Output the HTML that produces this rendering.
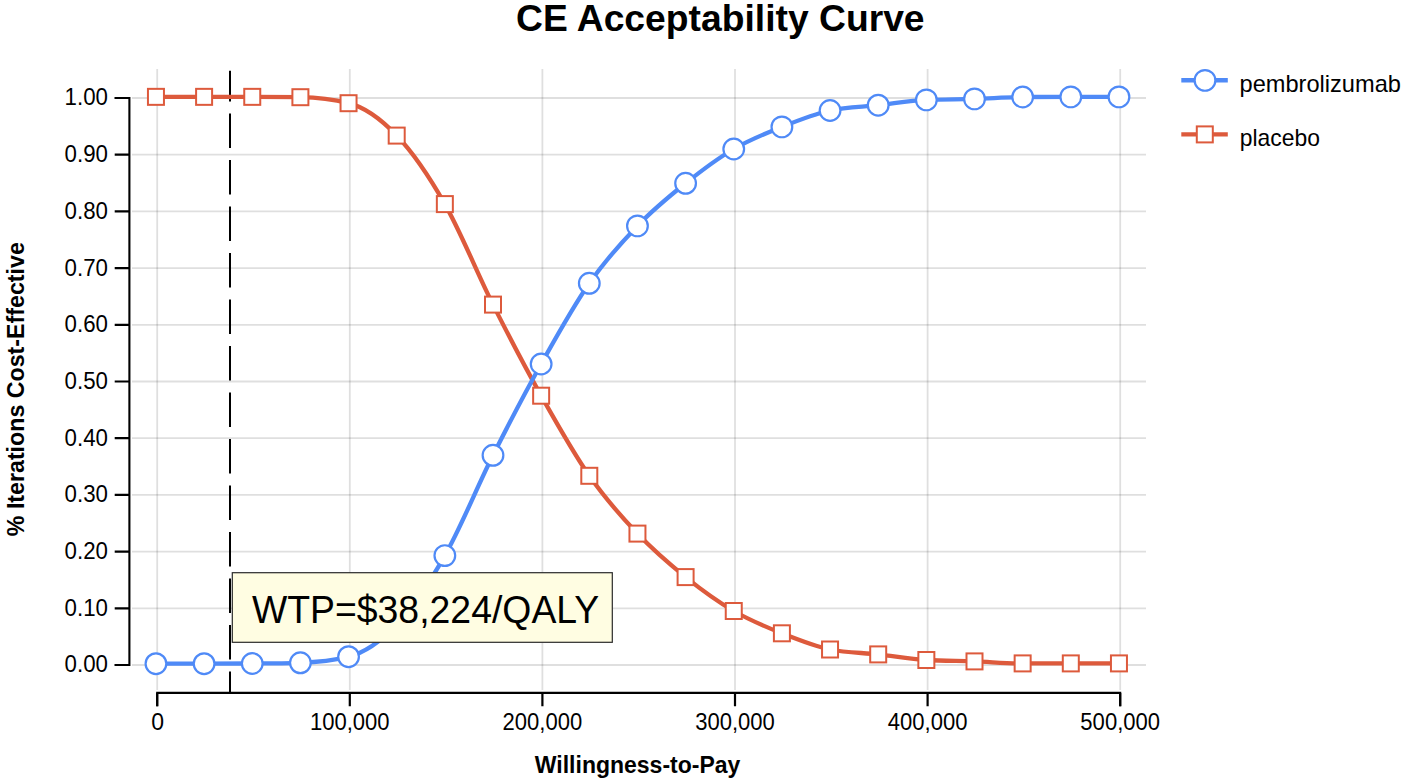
<!DOCTYPE html>
<html><head><meta charset="utf-8"><title>CE Acceptability Curve</title>
<style>
html,body{margin:0;padding:0;background:#fff;overflow:hidden;}
svg{display:block;}
text{font-family:"Liberation Sans",sans-serif;fill:#000;}
.tk{font-size:23px;}
.lg{font-size:23.4px;}
.title{font-size:37px;font-weight:bold;}
.axt{font-size:23px;font-weight:bold;}
.wtp{font-size:38px;}
</style></head><body>
<svg width="1403" height="784" viewBox="0 0 1403 784">
<rect x="0" y="0" width="1403" height="784" fill="#fff"/>
<path d="M157.20,69V690" stroke="#000" stroke-opacity="0.125" stroke-width="1.8" fill="none"/>
<path d="M349.80,69V690" stroke="#000" stroke-opacity="0.125" stroke-width="1.8" fill="none"/>
<path d="M542.40,69V690" stroke="#000" stroke-opacity="0.125" stroke-width="1.8" fill="none"/>
<path d="M735.00,69V690" stroke="#000" stroke-opacity="0.125" stroke-width="1.8" fill="none"/>
<path d="M927.60,69V690" stroke="#000" stroke-opacity="0.125" stroke-width="1.8" fill="none"/>
<path d="M1120.20,69V690" stroke="#000" stroke-opacity="0.125" stroke-width="1.8" fill="none"/>
<path d="M132,98.00H1146" stroke="#000" stroke-opacity="0.125" stroke-width="1.8" fill="none"/>
<path d="M132,154.70H1146" stroke="#000" stroke-opacity="0.125" stroke-width="1.8" fill="none"/>
<path d="M132,211.40H1146" stroke="#000" stroke-opacity="0.125" stroke-width="1.8" fill="none"/>
<path d="M132,268.10H1146" stroke="#000" stroke-opacity="0.125" stroke-width="1.8" fill="none"/>
<path d="M132,324.80H1146" stroke="#000" stroke-opacity="0.125" stroke-width="1.8" fill="none"/>
<path d="M132,381.50H1146" stroke="#000" stroke-opacity="0.125" stroke-width="1.8" fill="none"/>
<path d="M132,438.20H1146" stroke="#000" stroke-opacity="0.125" stroke-width="1.8" fill="none"/>
<path d="M132,494.90H1146" stroke="#000" stroke-opacity="0.125" stroke-width="1.8" fill="none"/>
<path d="M132,551.60H1146" stroke="#000" stroke-opacity="0.125" stroke-width="1.8" fill="none"/>
<path d="M132,608.30H1146" stroke="#000" stroke-opacity="0.125" stroke-width="1.8" fill="none"/>
<path d="M132,665.00H1146" stroke="#000" stroke-opacity="0.125" stroke-width="1.8" fill="none"/>
<path d="M114.7,98.00H129.4V665.00H114.7" stroke="#000" stroke-width="2.1" fill="none"/>
<path d="M114.7,98.00H129.4M114.7,154.70H129.4M114.7,211.40H129.4M114.7,268.10H129.4M114.7,324.80H129.4M114.7,381.50H129.4M114.7,438.20H129.4M114.7,494.90H129.4M114.7,551.60H129.4M114.7,608.30H129.4M114.7,665.00H129.4" stroke="#000" stroke-width="2.2" fill="none"/>
<path d="M157.20,706.3V692.9H1120.20V706.3" stroke="#000" stroke-width="2.1" fill="none"/>
<path d="M157.20,692.9V706.3M349.80,692.9V706.3M542.40,692.9V706.3M735.00,692.9V706.3M927.60,692.9V706.3M1120.20,692.9V706.3" stroke="#000" stroke-width="2.2" fill="none"/>
<text x="107.9" y="105.40" text-anchor="end" class="tk" textLength="43.32" lengthAdjust="spacingAndGlyphs">1.00</text>
<text x="107.9" y="162.10" text-anchor="end" class="tk" textLength="43.32" lengthAdjust="spacingAndGlyphs">0.90</text>
<text x="107.9" y="218.80" text-anchor="end" class="tk" textLength="43.32" lengthAdjust="spacingAndGlyphs">0.80</text>
<text x="107.9" y="275.50" text-anchor="end" class="tk" textLength="43.32" lengthAdjust="spacingAndGlyphs">0.70</text>
<text x="107.9" y="332.20" text-anchor="end" class="tk" textLength="43.32" lengthAdjust="spacingAndGlyphs">0.60</text>
<text x="107.9" y="388.90" text-anchor="end" class="tk" textLength="43.32" lengthAdjust="spacingAndGlyphs">0.50</text>
<text x="107.9" y="445.60" text-anchor="end" class="tk" textLength="43.32" lengthAdjust="spacingAndGlyphs">0.40</text>
<text x="107.9" y="502.30" text-anchor="end" class="tk" textLength="43.32" lengthAdjust="spacingAndGlyphs">0.30</text>
<text x="107.9" y="559.00" text-anchor="end" class="tk" textLength="43.32" lengthAdjust="spacingAndGlyphs">0.20</text>
<text x="107.9" y="615.70" text-anchor="end" class="tk" textLength="43.32" lengthAdjust="spacingAndGlyphs">0.10</text>
<text x="107.9" y="672.40" text-anchor="end" class="tk" textLength="43.32" lengthAdjust="spacingAndGlyphs">0.00</text>
<text x="157.60" y="729.5" text-anchor="middle" class="tk">0</text>
<text x="349.80" y="729.5" text-anchor="middle" class="tk" textLength="79.68" lengthAdjust="spacingAndGlyphs">100,000</text>
<text x="542.40" y="729.5" text-anchor="middle" class="tk" textLength="79.68" lengthAdjust="spacingAndGlyphs">200,000</text>
<text x="735.00" y="729.5" text-anchor="middle" class="tk" textLength="79.68" lengthAdjust="spacingAndGlyphs">300,000</text>
<text x="927.60" y="729.5" text-anchor="middle" class="tk" textLength="79.68" lengthAdjust="spacingAndGlyphs">400,000</text>
<text x="1120.20" y="729.5" text-anchor="middle" class="tk" textLength="79.68" lengthAdjust="spacingAndGlyphs">500,000</text>
<text x="720.3" y="30.8" text-anchor="middle" class="title" textLength="408.6" lengthAdjust="spacingAndGlyphs">CE Acceptability Curve</text>
<text x="637.6" y="772.8" text-anchor="middle" class="axt">Willingness-to-Pay</text>
<text transform="translate(24.2,389.2) rotate(-90)" text-anchor="middle" class="axt" textLength="294" lengthAdjust="spacingAndGlyphs">% Iterations Cost-Effective</text>
<line x1="230" y1="70.7" x2="230" y2="692" stroke="#000" stroke-width="2" stroke-dasharray="34.4 12.1" stroke-dashoffset="3.6"/>
<path d="M155.95,96.85C172.00,96.85,188.05,96.85,204.10,96.85C220.15,96.85,236.20,96.85,252.25,96.85C268.30,96.85,284.35,96.97,300.40,97.20C316.45,97.43,332.50,99.20,348.55,103.20C364.60,107.20,380.65,118.78,396.70,135.60C412.75,152.42,428.80,175.93,444.85,204.10C460.90,232.27,476.95,272.67,493.00,304.60C509.05,336.53,525.10,367.17,541.15,395.70C557.20,424.23,573.25,452.82,589.30,475.80C605.35,498.78,621.40,516.72,637.45,533.60C653.50,550.48,669.55,564.20,685.60,577.10C701.65,590.00,717.70,601.63,733.75,611.00C749.80,620.37,765.85,626.88,781.90,633.30C797.95,639.72,814.00,646.23,830.05,649.50C846.10,652.77,862.15,652.65,878.20,654.40C894.25,656.15,910.30,659.07,926.35,660.00C942.40,660.93,958.45,660.83,974.50,661.40C990.55,661.97,1006.60,663.40,1022.65,663.40C1038.70,663.40,1054.75,663.40,1070.80,663.40C1086.85,663.40,1102.90,663.40,1118.95,663.40" stroke="#dd5a3c" stroke-width="4.3" fill="none"/>
<path d="M155.95,663.70C172.00,663.70,188.05,663.70,204.10,663.70C220.15,663.70,236.20,663.63,252.25,663.50C268.30,663.37,284.35,663.27,300.40,662.80C316.45,662.33,332.50,660.77,348.55,656.70C364.60,652.63,380.65,641.55,396.70,624.70C412.75,607.85,428.80,583.83,444.85,555.60C460.90,527.37,476.95,487.23,493.00,455.30C509.05,423.37,525.10,392.67,541.15,364.00C557.20,335.33,573.25,306.32,589.30,283.30C605.35,260.28,621.40,242.57,637.45,225.90C653.50,209.23,669.55,196.12,685.60,183.30C701.65,170.48,717.70,158.40,733.75,149.00C749.80,139.60,765.85,133.32,781.90,126.90C797.95,120.48,814.00,114.03,830.05,110.50C846.10,106.97,862.15,106.97,878.20,105.20C894.25,103.43,910.30,100.57,926.35,99.90C942.40,99.23,958.45,99.38,974.50,98.90C990.55,98.42,1006.60,97.07,1022.65,97.00C1038.70,96.93,1054.75,96.90,1070.80,96.90C1086.85,96.90,1102.90,96.90,1118.95,96.90" stroke="#4f8af7" stroke-width="4.3" fill="none"/>
<rect x="147.95" y="88.85" width="16" height="16" fill="#fff" stroke="#dd5a3c" stroke-width="2"/>
<rect x="196.10" y="88.85" width="16" height="16" fill="#fff" stroke="#dd5a3c" stroke-width="2"/>
<rect x="244.25" y="88.85" width="16" height="16" fill="#fff" stroke="#dd5a3c" stroke-width="2"/>
<rect x="292.40" y="89.20" width="16" height="16" fill="#fff" stroke="#dd5a3c" stroke-width="2"/>
<rect x="340.55" y="95.20" width="16" height="16" fill="#fff" stroke="#dd5a3c" stroke-width="2"/>
<rect x="388.70" y="127.60" width="16" height="16" fill="#fff" stroke="#dd5a3c" stroke-width="2"/>
<rect x="436.85" y="196.10" width="16" height="16" fill="#fff" stroke="#dd5a3c" stroke-width="2"/>
<rect x="485.00" y="296.60" width="16" height="16" fill="#fff" stroke="#dd5a3c" stroke-width="2"/>
<rect x="533.15" y="387.70" width="16" height="16" fill="#fff" stroke="#dd5a3c" stroke-width="2"/>
<rect x="581.30" y="467.80" width="16" height="16" fill="#fff" stroke="#dd5a3c" stroke-width="2"/>
<rect x="629.45" y="525.60" width="16" height="16" fill="#fff" stroke="#dd5a3c" stroke-width="2"/>
<rect x="677.60" y="569.10" width="16" height="16" fill="#fff" stroke="#dd5a3c" stroke-width="2"/>
<rect x="725.75" y="603.00" width="16" height="16" fill="#fff" stroke="#dd5a3c" stroke-width="2"/>
<rect x="773.90" y="625.30" width="16" height="16" fill="#fff" stroke="#dd5a3c" stroke-width="2"/>
<rect x="822.05" y="641.50" width="16" height="16" fill="#fff" stroke="#dd5a3c" stroke-width="2"/>
<rect x="870.20" y="646.40" width="16" height="16" fill="#fff" stroke="#dd5a3c" stroke-width="2"/>
<rect x="918.35" y="652.00" width="16" height="16" fill="#fff" stroke="#dd5a3c" stroke-width="2"/>
<rect x="966.50" y="653.40" width="16" height="16" fill="#fff" stroke="#dd5a3c" stroke-width="2"/>
<rect x="1014.65" y="655.40" width="16" height="16" fill="#fff" stroke="#dd5a3c" stroke-width="2"/>
<rect x="1062.80" y="655.40" width="16" height="16" fill="#fff" stroke="#dd5a3c" stroke-width="2"/>
<rect x="1110.95" y="655.40" width="16" height="16" fill="#fff" stroke="#dd5a3c" stroke-width="2"/>
<circle cx="155.95" cy="663.70" r="10.35" fill="#fff" stroke="#4f8af7" stroke-width="2.2"/>
<circle cx="204.10" cy="663.70" r="10.35" fill="#fff" stroke="#4f8af7" stroke-width="2.2"/>
<circle cx="252.25" cy="663.50" r="10.35" fill="#fff" stroke="#4f8af7" stroke-width="2.2"/>
<circle cx="300.40" cy="662.80" r="10.35" fill="#fff" stroke="#4f8af7" stroke-width="2.2"/>
<circle cx="348.55" cy="656.70" r="10.35" fill="#fff" stroke="#4f8af7" stroke-width="2.2"/>
<circle cx="396.70" cy="624.70" r="10.35" fill="#fff" stroke="#4f8af7" stroke-width="2.2"/>
<circle cx="444.85" cy="555.60" r="10.35" fill="#fff" stroke="#4f8af7" stroke-width="2.2"/>
<circle cx="493.00" cy="455.30" r="10.35" fill="#fff" stroke="#4f8af7" stroke-width="2.2"/>
<circle cx="541.15" cy="364.00" r="10.35" fill="#fff" stroke="#4f8af7" stroke-width="2.2"/>
<circle cx="589.30" cy="283.30" r="10.35" fill="#fff" stroke="#4f8af7" stroke-width="2.2"/>
<circle cx="637.45" cy="225.90" r="10.35" fill="#fff" stroke="#4f8af7" stroke-width="2.2"/>
<circle cx="685.60" cy="183.30" r="10.35" fill="#fff" stroke="#4f8af7" stroke-width="2.2"/>
<circle cx="733.75" cy="149.00" r="10.35" fill="#fff" stroke="#4f8af7" stroke-width="2.2"/>
<circle cx="781.90" cy="126.90" r="10.35" fill="#fff" stroke="#4f8af7" stroke-width="2.2"/>
<circle cx="830.05" cy="110.50" r="10.35" fill="#fff" stroke="#4f8af7" stroke-width="2.2"/>
<circle cx="878.20" cy="105.20" r="10.35" fill="#fff" stroke="#4f8af7" stroke-width="2.2"/>
<circle cx="926.35" cy="99.90" r="10.35" fill="#fff" stroke="#4f8af7" stroke-width="2.2"/>
<circle cx="974.50" cy="98.90" r="10.35" fill="#fff" stroke="#4f8af7" stroke-width="2.2"/>
<circle cx="1022.65" cy="97.00" r="10.35" fill="#fff" stroke="#4f8af7" stroke-width="2.2"/>
<circle cx="1070.80" cy="96.90" r="10.35" fill="#fff" stroke="#4f8af7" stroke-width="2.2"/>
<circle cx="1118.95" cy="96.90" r="10.35" fill="#fff" stroke="#4f8af7" stroke-width="2.2"/>
<rect x="232.3" y="572.7" width="380" height="69.6" fill="#fffde2" stroke="#2a2a2a" stroke-width="1.2"/>
<text x="251.9" y="623" class="wtp" textLength="347.4" lengthAdjust="spacingAndGlyphs">WTP=$38,224/QALY</text>
<path d="M1181.3,80.25H1227.8" stroke="#4f8af7" stroke-width="4.3"/>
<circle cx="1205" cy="80.4" r="10.35" fill="#fff" stroke="#4f8af7" stroke-width="2.2"/>
<text x="1239.5" y="91.8" class="lg" textLength="161.4" lengthAdjust="spacingAndGlyphs">pembrolizumab</text>
<path d="M1181.3,134.4H1227.8" stroke="#dd5a3c" stroke-width="4.3"/>
<rect x="1196.8" y="126.4" width="16" height="16" fill="#fff" stroke="#dd5a3c" stroke-width="2"/>
<text x="1239.7" y="145.8" class="lg" textLength="80.2" lengthAdjust="spacingAndGlyphs">placebo</text>
</svg>
</body></html>
